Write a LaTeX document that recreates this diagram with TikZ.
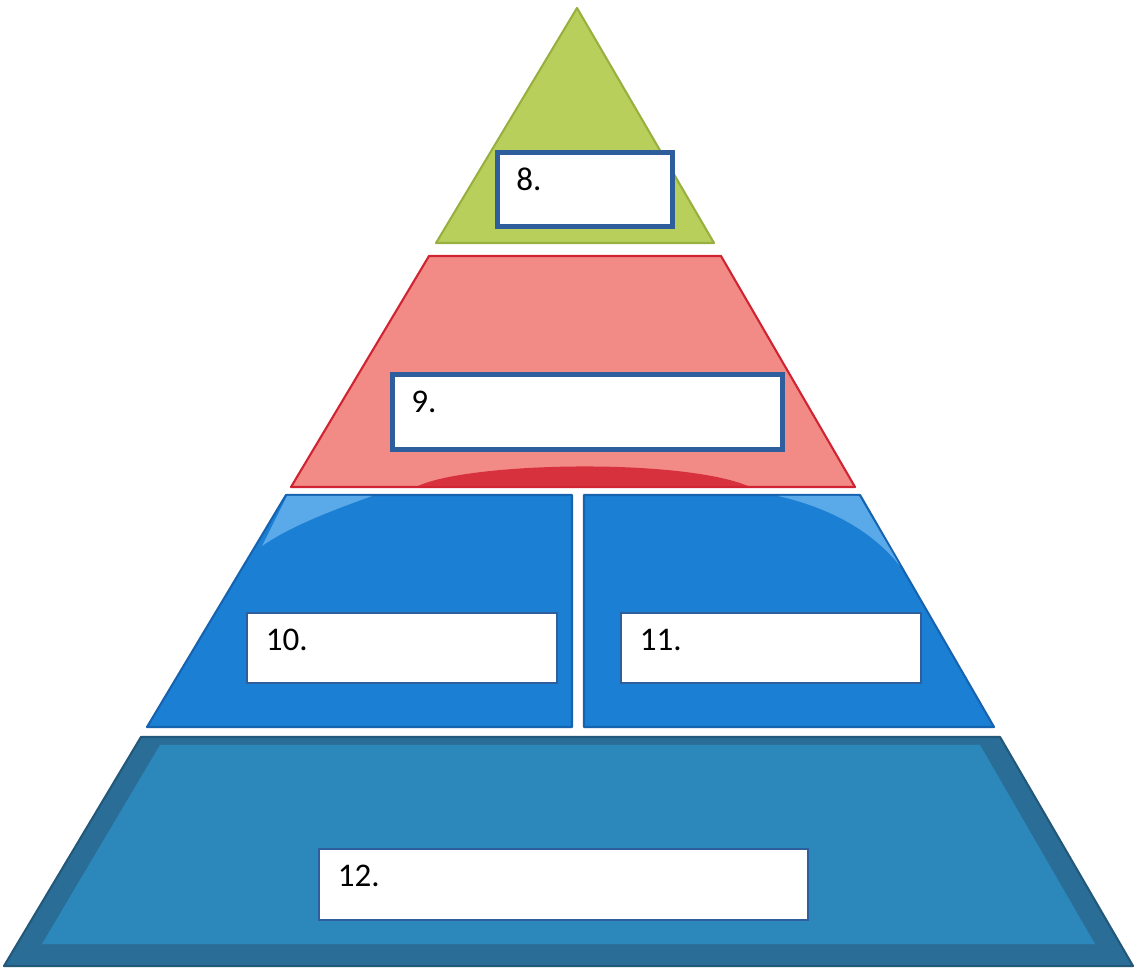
\documentclass[tikz,border=0pt]{standalone}
\usepackage{fontspec}
\setmainfont{Carlito}
\usetikzlibrary{positioning}

\definecolor{leafgreen}{HTML}{B8CF5C}
\definecolor{leafedge}{HTML}{98B040}
\definecolor{salmon}{HTML}{F28A86}
\definecolor{salmonedge}{HTML}{D02433}
\definecolor{salmonarc}{HTML}{D8313E}
\definecolor{skyblue}{HTML}{1B80D4}
\definecolor{skyedge}{HTML}{1663B0}
\definecolor{skyshine}{HTML}{5AA9E8}
\definecolor{tealblue}{HTML}{2C87BB}
\definecolor{tealbevel}{HTML}{2A6E98}
\definecolor{tagblue}{HTML}{2F5E9C}

\begin{document}
\begin{tikzpicture}[
    x=0.01cm, y=-0.01cm,
    tier/.style={line width=0.6pt, line join=round},
    tagbox/.style n args={2}{
      draw=tagblue,
      fill=white,
      anchor=north west,
      align=left,
      inner xsep=0.19cm,
      inner ysep=0.16cm,
      text height=0.22cm,
      text width=#1,
      text depth=#2,
      font=\fontsize{9.4}{10}\selectfont
    },
    thickbox/.style={line width=1.3pt},
    thinbox/.style={line width=0.5pt}
  ]
    \useasboundingbox (0,0) rectangle (1134,974);

    % top tier
    \filldraw[tier, fill=leafgreen, draw=leafedge] (577,8) -- (714,243) -- (436,243) -- cycle;

    % second tier
    \filldraw[tier, fill=salmon, draw=salmonedge] (429,256) -- (721,256) -- (855,487) -- (291,487) -- cycle;
    \fill[salmonarc] (418,486) .. controls (470,462) and (680,458) .. (748,486) -- cycle;

    % third tier, split in two
    \filldraw[tier, fill=skyblue, draw=skyedge] (286,495) -- (572,495) -- (572,727) -- (147,727) -- cycle;
    \filldraw[tier, fill=skyblue, draw=skyedge] (584,495) -- (860,495) -- (994,727) -- (584,727) -- cycle;
    \fill[skyshine] (287,496) -- (372,496) .. controls (322,514) and (288,528) .. (262,546) -- cycle;
    \fill[skyshine] (778,496) -- (859,496) -- (900,566) .. controls (878,538) and (840,510) .. (778,496) -- cycle;

    % base tier with bevel
    \filldraw[tier, fill=tealbevel, draw=tealbevel!80!black] (141,737) -- (1000,737) -- (1133,966) -- (4,966) -- cycle;
    \fill[tealblue] (160,745) -- (980,745) -- (1095,944) -- (42,944) -- cycle;

    % answer boxes
    \node[tagbox={1.37cm}{0.20cm}, thickbox] (tag8) at (495,150) {8.};
    \node[tagbox={3.52cm}{0.21cm}, thickbox] (tag9) at (390,372) {9.};
    \node[tagbox={2.72cm}{0.16cm}, thinbox] (tag10) at (246,612) {10.};
    \node[tagbox={2.62cm}{0.16cm}, thinbox] (tag11) at (620,612) {11.};
    \node[tagbox={4.51cm}{0.17cm}, thinbox] (tag12) at (318,848) {12.};
\end{tikzpicture}
\end{document}
